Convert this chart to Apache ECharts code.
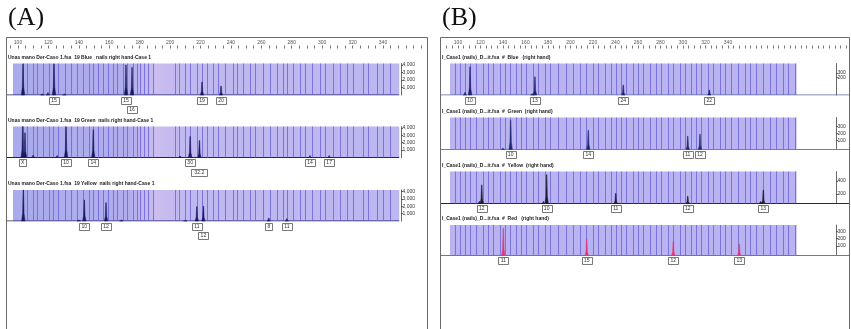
<!DOCTYPE html>
<html>
<head>
<meta charset="utf-8">
<script src="https://cdn.jsdelivr.net/npm/echarts@6/dist/echarts.min.js"></script>
<style>
  html, body { margin: 0; padding: 0; background: #fff; }
  #chart { width: 851px; height: 329px; }
</style>
</head>
<body>
<div id="chart"></div>
<script>
// ---------------------------------------------------------------------------
// Data (fragment size in bp)
// ---------------------------------------------------------------------------
const SIZE_LABELS = [100, 120, 140, 160, 180, 200, 220, 240, 260, 280, 300, 320, 340];
const A_TICKS = [95, 100, 105, 110, 115, 120, 125, 130, 135, 140, 145, 150, 155, 160, 165, 170, 175, 180, 185, 190,
  195, 200, 205, 210, 215, 220, 225, 230, 235, 240, 245, 250, 255, 260, 265, 270, 275, 280, 285, 290, 295, 300, 305,
  310, 315, 320, 325, 330, 335, 340, 345, 350, 355, 360, 365];
const B_TICKS = [90, 95, 100, 105, 110, 115, 120, 125, 130, 135, 140, 145, 150, 155, 160, 165, 170, 175, 180, 185, 190,
  195, 200, 205, 210, 215, 220, 225, 230, 235, 240, 245, 250, 255, 260, 265, 270, 275, 280, 285, 290, 295, 300, 305,
  310, 315, 320, 325, 330, 335, 340, 345, 350, 355, 360, 365, 370, 375, 380, 385, 390, 395, 400, 405, 410, 415, 420,
  425, 430, 435, 440, 445];

// bin lines (bp)
const BINS_A = [103.3, 106, 109.9, 112.5, 116.4, 120.4, 123, 126.3, 130.9, 134.9, 138.8, 142.8, 146.7, 149.3, 152.6,
  155.9, 159.2, 162.5, 165.1, 169.1, 171.7, 175.7, 178.3, 180.3, 182.9, 185.5, 188.8, 203.3, 205.9, 209.9, 213.2, 217.8,
  221, 224.3, 228.3, 231.6, 236.2, 241.4, 244.1, 248, 252.6, 255.9, 261.2, 265.8, 270.4, 274.3, 277, 280.9, 285.5, 288.8,
  293.4, 298.7, 302, 307.2, 311.8, 316.4, 320.4, 327, 330.3, 336.2, 340.1, 344.7];
const BINS_B = [97.3, 101.8, 106.2, 110.7, 116.6, 122.5, 127, 131.4, 137.3, 141.8, 146.2, 152.2, 156.6, 161, 166.9,
  171.4, 177.3, 181.8, 189.2, 196.6, 202.5, 208.4, 214.4, 220.3, 224.7, 230.7, 236.6, 241, 245.5, 249.9, 255.8, 260.3,
  264.7, 270.7, 276.6, 281, 287, 291.4, 297.3, 301.8, 307.7, 312.2, 316.6, 322.5, 326.9, 332.9, 337.3, 343.3, 349.2,
  355.1, 359.6, 365.5, 371.4, 377.3, 383.3, 389.2, 393.6, 399.6];

// panel A lanes: peaks [bp, RFU], calls [bp, allele, row]
const A1_TITLE = "Unas mano Der-Caso 1.fsa  19 Blue   nails right hand-Case 1";
const A1_PEAKS = [[103.3, 4150], [116, 150], [119.7, 300], [123.7, 4150], [130.5, 150], [171, 4000], [175, 3700],
  [221, 1720], [233.5, 1190]];
const A1_CALLS = [[123.7, "15", 0], [171, "15", 0], [175, "16", 1], [221, "19", 0], [233.5, "20", 0]];

const A2_TITLE = "Unas mano Der-Caso 1.fsa  19 Green  nails right hand-Case 1";
const A2_PEAKS = [[103.1, 4200], [104.6, 3350], [109.9, 300], [125.7, 250], [131.6, 4150], [149.5, 3750],
  [206.6, 200], [213.2, 2850], [219.3, 2300], [292, 250], [304.6, 250]];
const A2_CALLS = [[103.1, "X", 0], [131.6, "10", 0], [149.5, "14", 0], [213.2, "30", 0], [219.3, "32.2", 1],
  [292, "14", 0], [304.6, "17", 0]];

const A3_TITLE = "Unas mano Der-Caso 1.fsa  19 Yellow  nails right hand-Case 1";
const A3_PEAKS = [[103.5, 4200], [140, 150], [143.6, 2850], [157.9, 2480], [168, 150], [210, 100], [217.6, 1940],
  [221.9, 2030], [264.9, 400], [276.8, 300]];
const A3_CALLS = [[143.6, "10", 0], [157.9, "12", 0], [217.6, "11", 0], [221.9, "12", 1], [264.9, "8", 0],
  [276.8, "11", 0]];

// panel B lanes
const B1_TITLE = "I_Case1 (nails)_D...it.fsa  #  Blue   (right hand)";
const B1_PEAKS = [[106.2, 40], [110.7, 446], [166, 20], [168.4, 289], [246.9, 158], [323.4, 79]];
const B1_CALLS = [[110.7, "10", 0], [168.4, "13", 0], [246.9, "24", 0], [323.4, "22", 0]];
const B1_AXIS = [100, 200, 300, 400];

const B2_TITLE = "I_Case1 (nails)_D...it.fsa  #  Green  (right hand)";
const B2_PEAKS = [[140, 20], [146.8, 458], [215.8, 302], [304.2, 208], [315.1, 239]];
const B2_CALLS = [[146.8, "10", 0], [215.8, "14", 0], [304.2, "11", 0], [315.1, "12", 0]];
const B2_AXIS = [100, 200, 300];

const B3_TITLE = "I_Case1 (nails)_D...it.fsa  #  Yellow  (right hand)";
const B3_PEAKS = [[119, 30], [121.1, 290], [176, 30], [178.8, 448], [240.2, 158], [304.2, 115], [369, 30], [371.4, 210]];
const B3_CALLS = [[121.1, "12", 0], [178.8, "10", 0], [240.2, "11", 0], [304.2, "12", 0], [371.4, "13", 0]];
const B3_AXIS = [200, 400];

const B4_TITLE = "I_Case1 (nails)_D...it.fsa  #  Red   (right hand)";
const B4_PEAKS = [[140.3, 446], [214.4, 267], [291.4, 228], [350, 190]];
const B4_CALLS = [[140.3, "11", 0], [214.4, "15", 0], [291.4, "12", 0], [350, "13", 0]];
const B4_AXIS = [100, 200, 300];

// ---------------------------------------------------------------------------
// Layout
// ---------------------------------------------------------------------------
const FONT = "Liberation Sans";

const PANELS = [
  {
    letter: "(A)", frame: [6.5, 37.5, 421, 400], left: 6, right: 424, min: 92.11, max: 368.94,
    ticks: A_TICKS, bins: BINS_A, rect: [96.7, 350.7], traceEnd: 350.7, ymax: 4200, yOffset: -26,
    fill: { type: "linear", x: 0, y: 0, x2: 1, y2: 0, colorStops: [
      { offset: 0, color: "#a9abec" }, { offset: 0.3, color: "#b1aded" }, { offset: 0.37, color: "#cbbdef" },
      { offset: 0.44, color: "#c0b8f0" }, { offset: 1, color: "#bcb6f1" }] },
    lanes: [
      { title: A1_TITLE, peaks: A1_PEAKS, calls: A1_CALLS, top: 63.5, base: 95, labels: [1000, 2000, 3000, 4000], trace: "#1e2068", peak: "#191b60" },
      { title: A2_TITLE, peaks: A2_PEAKS, calls: A2_CALLS, top: 126.5, base: 157.5, labels: [1000, 2000, 3000, 4000], trace: "#1e2068", peak: "#191b60" },
      { title: A3_TITLE, peaks: A3_PEAKS, calls: A3_CALLS, top: 190, base: 221, labels: [1000, 2000, 3000, 4000], trace: "#1e2068", peak: "#191b60" }
    ]
  },
  {
    letter: "(B)", frame: [440.5, 37.5, 409, 400], left: 440, right: 2, min: 84, max: 447.56,
    ticks: B_TICKS, bins: BINS_B, rect: [92.9, 401], traceEnd: 447.56, ymax: 500, yOffset: -13,
    fill: "#b9b3f1",
    lanes: [
      { title: B1_TITLE, peaks: B1_PEAKS, calls: B1_CALLS, top: 63.5, base: 95, labels: B1_AXIS, axis: [-212, 520], trace: "#56699a", peak: "#1f206c" },
      { title: B2_TITLE, peaks: B2_PEAKS, calls: B2_CALLS, top: 117.5, base: 149.5, labels: B2_AXIS, axis: [-33, 424], trace: "#2f9db2", peak: "#1f2a6c" },
      { title: B3_TITLE, peaks: B3_PEAKS, calls: B3_CALLS, top: 171.5, base: 203.5, labels: B3_AXIS, axis: [57, 543], trace: "#2a2a2e", peak: "#1a1a34" },
      { title: B4_TITLE, peaks: B4_PEAKS, calls: B4_CALLS, top: 225, base: 255.5, labels: B4_AXIS, axis: [-38, 394], trace: "#e2417d", peak: "#e0367a" }
    ]
  }
];

// peak drawn as a narrow spike on the lane's own scales
function peakShape(color) {
  return (params, api) => {
    const x = api.value(0);
    const b = api.coord([x, 0]);
    const t = api.coord([x, api.value(1)]);
    const midY = b[1] + (t[1] - b[1]) * 0.25;
    return {
      type: "polygon",
      shape: { points: [[b[0] - 1.7, b[1]], [b[0] - 0.7, midY], [t[0] - 0.25, t[1]], [t[0] + 0.25, t[1]],
        [b[0] + 0.7, midY], [b[0] + 1.7, b[1]]] },
      style: { fill: color, stroke: color, lineWidth: 0.5 }
    };
  };
}

// allele call box under a peak
function callBox(calls) {
  return (params, api) => {
    const c = calls[params.dataIndex];
    const b = api.coord([api.value(0), 0]);
    const w = c[1].length * 3 + 4;
    const y = b[1] + 1.5 + c[2] * 9.5;
    return {
      type: "group",
      children: [
        { type: "rect", shape: { x: Math.round(b[0] - w / 2) + 0.5, y: Math.round(y) + 0.5, width: w, height: 7 },
          style: { fill: "#fff", stroke: "#555", lineWidth: 0.8 } },
        { type: "text", style: { x: b[0], y: y + 4, text: c[1], align: "center", verticalAlign: "middle",
          font: "5px " + FONT, fill: "#333" } }
      ]
    };
  };
}

const grids = [], xAxes = [], yAxes = [], series = [], titles = [], graphics = [];

PANELS.forEach((p) => {
  titles.push({ text: p.letter, left: p.frame[0] + 1.5, top: 5, padding: 0,
    textStyle: { fontFamily: "Liberation Serif", fontWeight: "normal", fontSize: 26, color: "#111" } });
  graphics.push({ type: "rect", shape: { x: p.frame[0], y: p.frame[1], width: p.frame[2], height: p.frame[3] },
    style: { fill: null, stroke: "#6a6a6a", lineWidth: 1 }, z: 100 });

  // size axis along the top of the frame
  const gi = grids.length;
  grids.push({ left: p.left, right: p.right, top: 37.5, height: 8 });
  xAxes.push({
    gridIndex: gi, type: "value", position: "top", min: p.min, max: p.max,
    axisLine: { show: false }, splitLine: { show: false },
    axisTick: { inside: true, length: 3, customValues: p.ticks, lineStyle: { color: "#555", width: 0.8 } },
    axisLabel: { inside: true, customValues: SIZE_LABELS, margin: 3, fontSize: 5, fontFamily: FONT, color: "#555" }
  });
  yAxes.push({ gridIndex: gi, type: "value", show: false, min: 0, max: 1 });

  p.lanes.forEach((lane) => {
    const g = grids.length;
    grids.push({ left: p.left, right: p.right, top: lane.top, height: lane.base - lane.top });
    xAxes.push({ gridIndex: g, type: "value", min: p.min, max: p.max, show: false });

    const axisStyle = {
      position: "right", offset: p.yOffset,
      axisLine: { show: true, lineStyle: { color: "#444", width: 0.8 } },
      axisTick: { show: true, length: 2, customValues: lane.labels, lineStyle: { color: "#444", width: 0.8 } },
      axisLabel: { customValues: lane.labels, margin: 1.5, fontSize: 5, lineHeight: 4, hideOverlap: false,
        fontFamily: FONT, color: "#333" },
      splitLine: { show: false }
    };
    const dataY = yAxes.length;
    if (lane.axis) {
      yAxes.push({ gridIndex: g, type: "value", min: 0, max: p.ymax, show: false });
      yAxes.push(Object.assign({ gridIndex: g, type: "value", min: lane.axis[0], max: lane.axis[1] }, axisStyle));
    } else {
      yAxes.push(Object.assign({ gridIndex: g, type: "value", min: 0, max: p.ymax }, axisStyle));
    }

    titles.push({ text: lane.title, left: p.frame[0] + 1.5, top: lane.top - 8.5, padding: 0,
      textStyle: { fontFamily: FONT, fontWeight: "bold", fontSize: 5, color: "#222" } });

    // lane background and bin lines
    series.push({
      type: "line", xAxisIndex: g, yAxisIndex: dataY, data: [[p.rect[0], 0], [p.rect[1], 0]],
      symbol: "none", silent: true, lineStyle: { opacity: 0 }, z: 1,
      markArea: { silent: true, itemStyle: { color: p.fill },
        data: [[{ xAxis: p.rect[0], yAxis: 0 }, { xAxis: p.rect[1], yAxis: p.ymax }]] },
      markLine: { silent: true, symbol: ["none", "none"], label: { show: false },
        lineStyle: { color: "#6a61d8", width: 1, type: "solid", opacity: 0.8 },
        data: p.bins.map((b) => ({ xAxis: b })) }
    });
    // baseline trace
    series.push({
      type: "line", xAxisIndex: g, yAxisIndex: dataY, data: [[p.min, 0], [p.traceEnd, 0]],
      symbol: "none", silent: true, lineStyle: { color: lane.trace, width: 1 }, z: 4
    });
    series.push({ type: "custom", xAxisIndex: g, yAxisIndex: dataY, data: lane.peaks,
      renderItem: peakShape(lane.peak), silent: true, z: 5 });
    series.push({ type: "custom", xAxisIndex: g, yAxisIndex: dataY, data: lane.calls.map((c) => [c[0], 0]),
      renderItem: callBox(lane.calls), clip: false, silent: true, z: 6 });
  });
});

const chart = echarts.init(document.getElementById("chart"));
chart.setOption({
  animation: false,
  backgroundColor: "#fff",
  title: titles,
  grid: grids,
  xAxis: xAxes,
  yAxis: yAxes,
  series: series,
  graphic: graphics
});
</script>
</body>
</html>
